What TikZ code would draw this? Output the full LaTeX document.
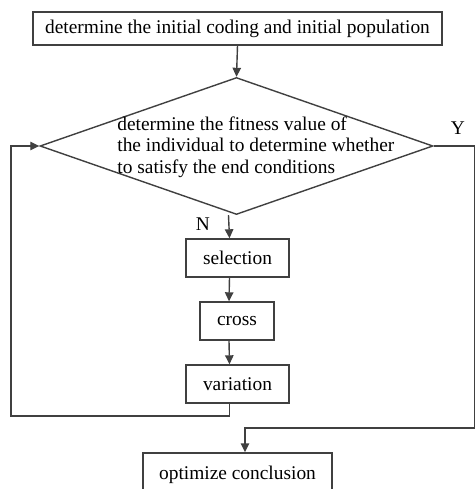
\documentclass[tikz,border=0pt]{standalone}
\usepackage{fontspec}
\setmainfont{Liberation Serif}
\usetikzlibrary{arrows.meta,shapes.geometric}
\definecolor{linecol}{HTML}{404040}

\begin{document}
\begin{tikzpicture}[x=0.5pt,y=-0.5pt,>={Triangle[length=4.5pt,width=4.2pt]},
    box/.style={draw=linecol,line width=0.7pt,inner sep=0pt,minimum height=19pt,font=\fontsize{9.7}{11}\selectfont},
    flow/.style={->,draw=linecol,line width=0.7pt}]
  \useasboundingbox (0,0) rectangle (476,489);
  \clip (0,0) rectangle (476,489);
  % boxes of the flow
  \node[box,minimum width=204.5pt,minimum height=16.5pt] (init) at (237.5,28.5) {determine the initial coding and initial population};
  \node[diamond,draw=linecol,line width=0.7pt,inner sep=0pt,minimum width=196.5pt,minimum height=68.5pt] (check) at (236.5,146) {};
  \node[anchor=west,align=left,inner sep=0pt,font=\fontsize{9.7}{10.75}\selectfont] (checktxt) at (117,147)
    {determine the fitness value of\\the\ individual\ to\ determine\ whether\\to satisfy the end conditions};
  \node[box,minimum width=51.5pt] (sel) at (237.5,258) {selection};
  \node[box,minimum width=37pt] (cross) at (237,321) {cross};
  \node[box,minimum width=51.5pt] (var) at (237.5,384) {variation};
  \node[box,minimum width=94.5pt,minimum height=22pt] (opt) at (237.5,475) {optimize conclusion};
  % turning points
  \coordinate (back) at (11,416);
  \coordinate (yturn) at (474.5,428);
  % connectors
  \draw[flow] (init.south) -- (check.north);
  \draw[flow] ([xshift=-4pt]check.south) -- ([xshift=-4pt]sel.north)
    node[pos=0,anchor=north east,inner sep=1pt,font=\fontsize{9.7}{11}\selectfont,xshift=-8pt] (nlab) {N};
  \draw[flow] ([xshift=-4pt]sel.south) -- ([xshift=-4pt]cross.north);
  \draw[flow] ([xshift=-4pt]cross.south) -- ([xshift=-4pt]var.north);
  \draw[flow] ([xshift=-4pt]var.south) |- (back) |- (check.west);
  \draw[flow] (check.east) -| (yturn) -| ([xshift=3.75pt]opt.north);
  \node[font=\fontsize{9.7}{11}\selectfont,inner sep=0pt] (ylab) at (458,128) {Y};
\end{tikzpicture}
\end{document}
